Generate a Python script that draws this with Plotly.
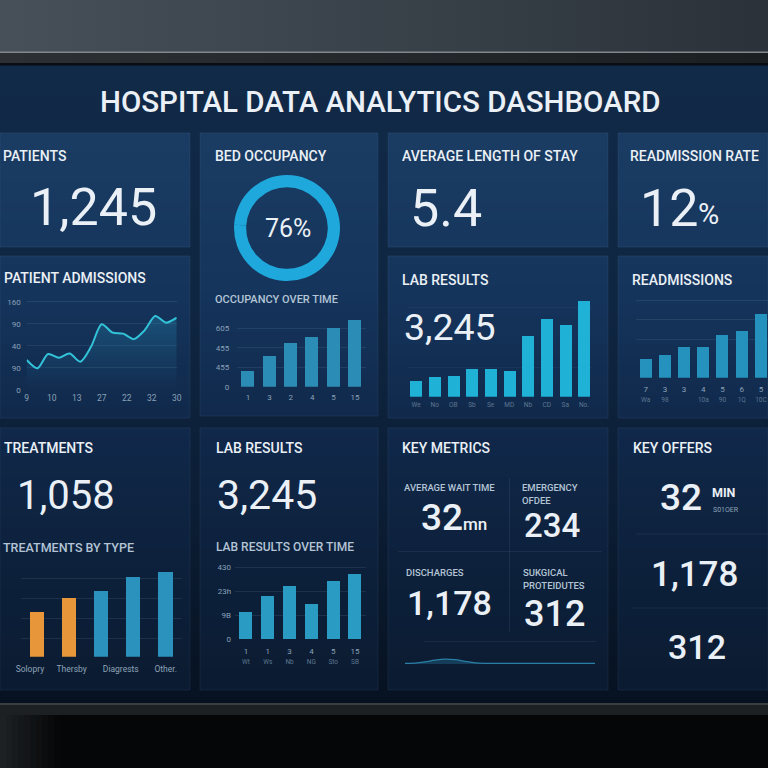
import plotly.graph_objects as go

W = H = 768
FONT = "Roboto"

# ---------------- data ----------------
occupancy_split = [76, 24]

occ_labels = ["1", "3", "2", "4", "5", "15"]
occ_values = [165, 315, 450, 510, 610, 690]
occ_ytickvals = [0, 200, 400, 600]
occ_yticktext = ["0", "455", "455", "605"]

adm_values = [54, 39, 65, 58, 66, 51, 78, 119, 104, 102, 92, 108, 134, 122, 131]
adm_xticktext = ["9", "10", "13", "27", "22", "32", "30"]
adm_ytickvals = [0, 40, 80, 120, 160]
adm_yticktext = ["0", "90", "40", "90", "160"]

lab_labels = ["We", "No", "OB", "Sb", "Se", "MD", "Nb", "CD", "Sa", "No."]
lab_values = [160, 204, 207, 277, 277, 264, 610, 784, 720, 960]

readm_top = ["7", "3", "3", "4", "5", "6", "5"]
readm_sub = ["Wa", "98", "", "10a", "90", "1Q", "10C"]
readm_values = [19, 23, 31, 31, 43, 47, 64]

treat_values = [46, 60, 68, 82, 87]
treat_labels = ["Solopry", "Thersby", "Diagrests", "Other."]
treat_colors = ["#e8963a", "#e8963a", "#2a92bd", "#2a92bd", "#2a92bd"]

lot_top = ["1", "1", "3", "4", "5", "15"]
lot_sub = ["Wt", "Ws", "Nb", "NG", "Sto", "SB"]
lot_values = [164, 258, 320, 210, 350, 390]
lot_ytickvals = [0, 143, 287, 430]
lot_yticktext = ["0", "9B", "23h", "430"]

spark_values = [0.3, 0.4, 0.9, 1.6, 2.0, 1.8, 1.1, 0.5, 0.3, 0.3,
                0.3, 0.3, 0.3, 0.3, 0.3, 0.3, 0.3, 0.3, 0.3, 0.3]

# ---------------- helpers ----------------
def clampx(x):
    return min(max(x, 0), W)

def clampy(y):
    return min(max(y, 0), H)

def px(x):
    return clampx(x) / W

def py(y):
    return 1 - clampy(y) / H

def xd(x0, x1):
    return [max(0, x0 / W), min(1, x1 / W)]

def yd(top, bottom):
    return [max(0, 1 - bottom / H), min(1, 1 - top / H)]

def hexrgb(h):
    h = h.lstrip("#")
    return tuple(int(h[i:i + 2], 16) for i in (0, 2, 4))

def interp(stops, t):
    stops = [(s, hexrgb(c)) for s, c in stops]
    if t <= stops[0][0]:
        c = stops[0][1]
    elif t >= stops[-1][0]:
        c = stops[-1][1]
    else:
        for (a, ca), (b, cb) in zip(stops, stops[1:]):
            if a <= t <= b:
                f = (t - a) / (b - a)
                c = tuple(round(u + (v - u) * f) for u, v in zip(ca, cb))
                break
    return "rgb(%d,%d,%d)" % c

shapes = []

def rect(x0, y0, x1, y1, color, line=None):
    d = dict(type="rect", xref="paper", yref="paper", x0=px(x0), x1=px(x1),
             y0=py(y1), y1=py(y0), fillcolor=color, layer="below")
    if line:
        d["line"] = dict(color=line, width=1)
    else:
        d["line"] = dict(width=0)
    shapes.append(d)

def hline(x0, x1, y, color, width=1):
    shapes.append(dict(type="line", xref="paper", yref="paper", x0=px(x0), x1=px(x1),
                       y0=py(y), y1=py(y), line=dict(color=color, width=width), layer="below"))

def vline(x, y0, y1, color, width=1):
    shapes.append(dict(type="line", xref="paper", yref="paper", x0=px(x), x1=px(x),
                       y0=py(y0), y1=py(y1), line=dict(color=color, width=width), layer="below"))

# ---------------- frame / background ----------------
rect(0, 0, W, H, "#050607")
step = 24
for x in range(0, W, step):
    rect(x, 0, x + step + 0.5, 52, interp([(0, "#47505a"), (768, "#2b3239")], x + step / 2))
rect(0, 51.5, W, 53, "#80878e")
for x in range(0, W, step):
    rect(x, 53, x + step + 0.5, 63, interp([(0, "#2c3034"), (768, "#1c1f22")], x + step / 2))
rect(0, 63, W, 66, "#0a0d11")

bg_stops = [(66, "#112a48"), (300, "#0f2642"), (520, "#0b1d34"), (703, "#071221")]
for y in range(66, 703, 8):
    rect(0, y - 0.5, W, min(703, y + 8.5), interp(bg_stops, y + 4))

rect(0, 703, W, 705, "#3a3e42")
rect(0, 705, W, 715, "#1d2023")
for x in range(0, 60, 6):
    rect(x, 715, x + 6.5, H, interp([(0, "#1e2226"), (60, "#050607")], x + 3))

panel_stops = [(133, "#1a3c63"), (300, "#15345b"), (430, "#10284a"), (560, "#0d213c"), (690, "#0b1b31")]

def panel(x0, y0, x1, y1, right_border=True):
    y = y0
    bh = 10
    while y < y1:
        yb = min(y1, y + bh)
        rect(x0, y - 0.3, x1, yb + 0.3, interp(panel_stops, (y + yb) / 2))
        y = yb
    rect(x0, y0, x1 + (0 if right_border else 3), y1, "rgba(0,0,0,0)", line="rgba(130,170,210,0.10)")

panel(0, 133, 190, 247)
panel(200, 133, 378, 416)
panel(388, 133, 608, 247)
panel(618, 133, 768, 247, False)
panel(0, 256, 190, 418)
panel(388, 256, 608, 418)
panel(618, 256, 768, 418, False)
panel(0, 428, 190, 690)
panel(200, 428, 378, 690)
panel(388, 428, 608, 690)
panel(618, 428, 768, 690, False)

div = "rgba(150,180,215,0.10)"
vline(509.5, 478, 632, div)
hline(398, 602, 551.5, div)
hline(424, 596, 641.5, div)
hline(636, 768, 534, div)
hline(632, 768, 608, div)

# ---------------- traces ----------------
GRID = "rgba(140,175,210,0.13)"
TICKC = "#8aa1b8"
DIMC = "#5d7690"

fig = go.Figure()

fig.add_trace(go.Pie(values=occupancy_split, hole=0.77, sort=False, direction="clockwise",
                     marker=dict(colors=["#1fa8dc", "#1fa8dc"], line=dict(width=0)),
                     textinfo="none", hoverinfo="skip", showlegend=False,
                     domain=dict(x=xd(234, 340), y=yd(175, 281))))

fig.add_trace(go.Bar(x=list(range(len(occ_values))), y=occ_values, width=0.6,
                     marker=dict(color="#2b8db5", line=dict(width=0)), xaxis="x", yaxis="y"))
fig.add_trace(go.Scatter(x=list(range(len(adm_values))), y=adm_values, mode="lines",
                         line=dict(color="#33c3d9", width=2, shape="spline", smoothing=0.8),
                         fill="tozeroy",
                         fillgradient=dict(type="vertical",
                                           colorscale=[[0, "rgba(40,150,190,0.0)"],
                                                       [1, "rgba(40,160,200,0.28)"]]),
                         xaxis="x2", yaxis="y2"))
fig.add_trace(go.Bar(x=list(range(len(lab_values))), y=lab_values, width=0.64,
                     marker=dict(color="#1fb2d6", line=dict(width=0)), xaxis="x3", yaxis="y3"))
fig.add_trace(go.Bar(x=list(range(len(readm_values))), y=readm_values, width=0.62,
                     marker=dict(color="#2592bd", line=dict(width=0)), xaxis="x4", yaxis="y4"))
fig.add_trace(go.Bar(x=list(range(len(treat_values))), y=treat_values, width=0.44,
                     marker=dict(color=treat_colors, line=dict(width=0)), xaxis="x5", yaxis="y5"))
fig.add_trace(go.Bar(x=list(range(len(lot_values))), y=lot_values, width=0.6,
                     marker=dict(color="#2a9cc4", line=dict(width=0)), xaxis="x6", yaxis="y6"))
fig.add_trace(go.Scatter(x=list(range(len(spark_values))), y=spark_values, mode="lines",
                         line=dict(color="#2a7fa6", width=1.2, shape="spline"),
                         fill="tozeroy", fillcolor="rgba(40,120,160,0.35)",
                         xaxis="x7", yaxis="y7"))

for tr in fig.data:
    tr.showlegend = False
    tr.hoverinfo = "skip"

# ---------------- axes ----------------
def ax(**kw):
    base = dict(showgrid=False, zeroline=False, showline=False, fixedrange=True,
                showticklabels=False, ticks="", automargin=False,
                tickfont=dict(family=FONT, size=8, color=TICKC))
    base.update(kw)
    return base

layout_axes = {}
layout_axes["xaxis"] = ax(domain=xd(237.3, 365.7), anchor="y", range=[-0.5, 5.5],
                          tickvals=list(range(len(occ_labels))), ticktext=occ_labels,
                          showticklabels=True, ticklabelstandoff=4)
layout_axes["yaxis"] = ax(domain=yd(316.5, 386.7), anchor="x", range=[0, 720],
                          tickvals=occ_ytickvals, ticktext=occ_yticktext, showticklabels=True,
                          showgrid=True, gridcolor=GRID, ticklabelstandoff=7)
adm_n = len(adm_values) - 1
layout_axes["xaxis2"] = ax(domain=xd(26.7, 176.7), anchor="y2", range=[0, adm_n],
                           tickvals=[i * adm_n / (len(adm_xticktext) - 1) for i in range(len(adm_xticktext))],
                           ticktext=adm_xticktext, showticklabels=True, ticklabelstandoff=2,
                           tickfont=dict(family=FONT, size=8.5, color=TICKC))
layout_axes["yaxis2"] = ax(domain=yd(299, 389.7), anchor="x2", range=[0, 165],
                           tickvals=adm_ytickvals, ticktext=adm_yticktext, showticklabels=True,
                           showgrid=True, gridcolor=GRID, ticklabelstandoff=5,
                           tickfont=dict(family=FONT, size=8, color=TICKC))
layout_axes["xaxis3"] = ax(domain=xd(406.7, 593.3), anchor="y3", range=[-0.5, 9.5],
                           tickvals=list(range(len(lab_labels))), ticktext=lab_labels,
                           showticklabels=True, ticklabelstandoff=3,
                           tickfont=dict(family=FONT, size=6.5, color=DIMC))
layout_axes["yaxis3"] = ax(domain=yd(296.7, 396.7), anchor="x3", range=[0, 1000],
                           tickvals=[0, 294, 894], showgrid=True, gridcolor="rgba(140,175,210,0.07)")
layout_axes["xaxis4"] = ax(domain=xd(636.1, 768), anchor="y4", range=[-0.5, 6.37],
                           tickvals=list(range(len(readm_top))),
                           ticktext=["%s<br><span style='font-size:6.5px;color:%s'>%s</span>" % (a, DIMC, b)
                                     for a, b in zip(readm_top, readm_sub)],
                           showticklabels=True, ticklabelstandoff=5)
layout_axes["yaxis4"] = ax(domain=yd(297.7, 377.7), anchor="x4", range=[0, 80],
                           tickvals=[0, 38, 58, 77], showgrid=True, gridcolor=GRID)
layout_axes["xaxis5"] = ax(domain=xd(21.25, 181.75), anchor="y5", range=[-0.5, 4.5],
                           tickvals=[-0.23, 1.07, 2.6, 4.0], ticktext=treat_labels,
                           showticklabels=True, ticklabelstandoff=6,
                           tickfont=dict(family=FONT, size=8.5, color="#8ea3b8"))
layout_axes["yaxis5"] = ax(domain=yd(566.5, 656.7), anchor="x5", range=[0, 92],
                           tickvals=[0, 19, 38.5, 59.5, 80], showgrid=True, gridcolor=GRID)
layout_axes["xaxis6"] = ax(domain=xd(235.1, 365.9), anchor="y6", range=[-0.5, 5.5],
                           tickvals=list(range(len(lot_top))),
                           ticktext=["%s<br><span style='font-size:6.5px;color:%s'>%s</span>" % (a, DIMC, b)
                                     for a, b in zip(lot_top, lot_sub)],
                           showticklabels=True, ticklabelstandoff=6)
layout_axes["yaxis6"] = ax(domain=yd(564.8, 639), anchor="x6", range=[0, 445],
                           tickvals=lot_ytickvals, ticktext=lot_yticktext, showticklabels=True,
                           showgrid=True, gridcolor=GRID, ticklabelstandoff=3)
layout_axes["xaxis7"] = ax(domain=xd(405, 595), anchor="y7", range=[0, len(spark_values) - 1])
layout_axes["yaxis7"] = ax(domain=yd(652, 664), anchor="x7", range=[0, 5])

# ---------------- text ----------------
ann = []
WHITE = "#eaf0f6"
SUB = "#b3c4d5"

def txt(x, y, s, size, color=WHITE, weight=400, xanchor="left"):
    off = 0.1 * size if size < 20 else 0.025 * size
    ann.append(dict(x=px(x), y=py(y + off), xref="paper", yref="paper", text=s,
                    showarrow=False, xanchor=xanchor, yanchor="middle", borderpad=0,
                    font=dict(family=FONT, size=size, color=color, weight=weight)))

txt(380, 101, "HOSPITAL DATA ANALYTICS DASHBOARD", 29.5, weight=500, xanchor="center")

txt(2, 155, "PATIENTS", 14, weight=500)
txt(29, 206, "1,245", 52)
txt(214, 155, "BED OCCUPANCY", 14, weight=500)
txt(288, 228, "76%", 25, xanchor="center")
txt(401, 155, "AVERAGE LENGTH OF STAY", 14, weight=500)
txt(409, 207, "5.4", 52)
txt(639, 207, "12", 52)
txt(697, 213, "%", 29)
txt(629, 155, "READMISSION RATE", 14, weight=500)

txt(3, 277, "PATIENT ADMISSIONS", 14, weight=500)
txt(214, 298.5, "OCCUPANCY OVER TIME", 11, color=SUB, weight=500)
txt(401, 278.5, "LAB RESULTS", 14, weight=500)
txt(403, 326.5, "3,245", 37.5)
txt(631, 279, "READMISSIONS", 14, weight=500)

txt(3, 447, "TREATMENTS", 14, weight=500)
txt(16, 494, "1,058", 40)
txt(2, 546, "TREATMENTS BY TYPE", 12.5, color=SUB, weight=500)
txt(215, 447, "LAB RESULTS", 14, weight=500)
txt(216, 494, "3,245", 41)
txt(215, 546, "LAB RESULTS OVER TIME", 12, color=SUB, weight=500)

txt(401, 447, "KEY METRICS", 14, weight=500)
txt(403, 487, "AVERAGE WAIT TIME", 9.5, color=SUB, weight=500)
txt(420, 516.5, "32<span style='font-size:17px'>mn</span>", 37, weight=500)
txt(521, 487, "EMERGENCY", 9.5, color=SUB, weight=500)
txt(521, 500, "OFDEE", 9.5, color=SUB, weight=500)
txt(523, 525, "234", 33, weight=500)
txt(405, 572, "DISCHARGES", 9.5, color=SUB, weight=500)
txt(406, 602.5, "1,178", 34, weight=500)
txt(522, 572, "SUKGICAL", 9.5, color=SUB, weight=500)
txt(522, 585, "PROTEIDUTES", 9.5, color=SUB, weight=500)
txt(523, 613.5, "312", 36, weight=500)

txt(632, 447, "KEY OFFERS", 14, weight=500)
txt(659, 496.5, "32", 37, weight=500)
txt(711, 491.5, "MIN", 12.5, weight=700)
txt(712, 509, "S01OER", 7, color="#8ea3b8")
txt(650, 574, "1,178", 35, weight=500)
txt(667, 646, "312", 34, weight=500)

fig.update_layout(
    width=W, height=H, margin=dict(l=0, r=0, t=0, b=0, pad=0, autoexpand=False),
    paper_bgcolor="#050607", plot_bgcolor="rgba(0,0,0,0)",
    shapes=shapes, annotations=ann, showlegend=False, bargap=0,
    font=dict(family=FONT, color=WHITE),
    **layout_axes,
)

fig.write_html("out.html", config={"displayModeBar": False})
